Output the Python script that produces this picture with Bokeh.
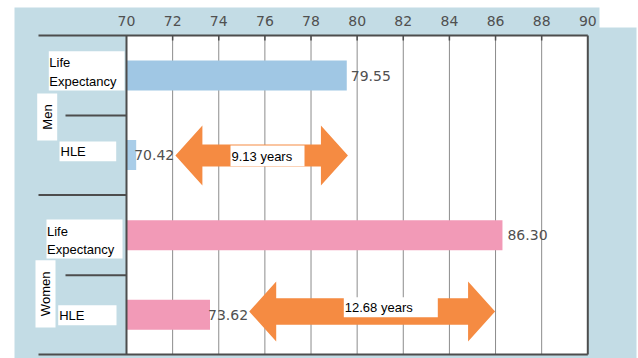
import math
from bokeh.plotting import figure
from bokeh.models import Range1d
from bokeh.core.properties import value
from bokeh.embed import file_html
from bokeh.resources import INLINE

# ---- data -------------------------------------------------------------
groups = ["Men", "Women"]
measures = ["Life Expectancy", "HLE"]
life_expectancy = [79.55, 86.30]
healthy_life_expectancy = [70.42, 73.62]
gap_years = [9.13, 12.68]
ticks = [70, 72, 74, 76, 78, 80, 82, 84, 86, 88, 90]

# ---- layout helpers (pixel layout -> data units on the x scale) -------
PPU = 23.065          # pixels per year
X_ORIGIN_PX = 126     # pixel column of the 70-year axis


def dx(px):
    return 70 + (px - X_ORIGIN_PX) / PPU


W, H = 638, 358
p = figure(width=W, height=H, x_range=Range1d(dx(0), dx(W)), y_range=Range1d(H, 0),
           min_border=0, toolbar_location=None, output_backend="svg",
           x_axis_location=None, y_axis_location=None)
p.grid.visible = False
p.outline_line_color = None
p.background_fill_color = "white"
p.border_fill_color = "white"

PANEL = "#c3dce5"
AXIS = "#4d4d4d"
GRID = "#8c8c8c"
LABEL = "#505050"
TXT_FONT = value("Liberation Sans")
NUM_FONT = value("DejaVu Sans")
TXT_SIZE = "13px"
NUM_SIZE = "14px"

# background panel with a notch at the top right
p.quad(left=[dx(14)], right=[dx(636)], top=[7], bottom=[358], fill_color=PANEL, line_color=None)
p.quad(left=[dx(599)], right=[dx(640)], top=[-2], bottom=[27], fill_color="white", line_color=None)

# plotting area
plot_top, plot_bottom = 35, 354
p.quad(left=[ticks[0]], right=[ticks[-1]], top=[plot_top], bottom=[plot_bottom],
       fill_color="white", line_color=None)

# vertical grid lines and top tick marks
inner = ticks[1:-1]
p.segment(x0=inner, x1=inner, y0=[plot_top] * len(inner), y1=[plot_bottom] * len(inner),
          line_color=GRID, line_width=1)
p.segment(x0=inner, x1=inner, y0=[plot_top] * len(inner), y1=[plot_top + 5] * len(inner),
          line_color=AXIS, line_width=1.5)

# tick labels
p.text(x=ticks, y=[20] * len(ticks), text=[str(t) for t in ticks],
       text_font=NUM_FONT, text_font_size=NUM_SIZE, text_color=LABEL,
       text_align="center", text_baseline="middle")

# row positions (pixel rows) and bar thickness
row_y = {("Men", "Life Expectancy"): 75, ("Men", "HLE"): 154.5,
         ("Women", "Life Expectancy"): 234.7, ("Women", "HLE"): 314.3}
BAR_HALF = 15
colors = {("Men", "Life Expectancy"): "#a0c7e4", ("Men", "HLE"): "#a9cde8",
          ("Women", "Life Expectancy"): "#f29ab7", ("Women", "HLE"): "#f29ab7"}
label_offsets = {("Men", "Life Expectancy"): 4, ("Men", "HLE"): -2,
                 ("Women", "Life Expectancy"): 5, ("Women", "HLE"): -2}

for gi, g in enumerate(groups):
    vals = {"Life Expectancy": life_expectancy[gi], "HLE": healthy_life_expectancy[gi]}
    for m in measures:
        key = (g, m)
        yc = row_y[key]
        v = vals[m]
        p.quad(left=[ticks[0]], right=[v], top=[yc - BAR_HALF], bottom=[yc + BAR_HALF],
               fill_color=colors[key], line_color=None)
        p.text(x=[v], y=[yc], text=[f"{v:.2f}"], x_offset=label_offsets[key],
               text_font=NUM_FONT, text_font_size=NUM_SIZE, text_color=LABEL,
               text_align="left", text_baseline="middle")

# frame lines
p.segment(x0=[ticks[0], ticks[-1]], x1=[ticks[0], ticks[-1]],
          y0=[plot_top, plot_top], y1=[plot_bottom, plot_bottom], line_color=AXIS, line_width=2)
p.segment(x0=[dx(38), dx(38), dx(38)], x1=[ticks[-1], ticks[-1], ticks[0]],
          y0=[plot_top, plot_bottom, 194.5], y1=[plot_top, plot_bottom, 194.5],
          line_color=AXIS, line_width=2)
p.segment(x0=[dx(65), dx(65)], x1=[ticks[0], ticks[0]], y0=[115, 274.7], y1=[115, 274.7],
          line_color=AXIS, line_width=2)

# double-headed gap arrows between HLE and life expectancy
ARROW = "#f58b42"
HEAD_LEN = 27 / PPU
arrow_y = [155, 311]
shaft_half = [11, 13.3]
end_pad = [-0.05, 0.32]
xs, ys = [], []
for i in range(len(groups)):
    x0 = healthy_life_expectancy[i] + 1.7
    x1 = life_expectancy[i] - end_pad[i]
    yc, hh, sh = arrow_y[i], 30, shaft_half[i]
    xs.append([x0, x0 + HEAD_LEN, x0 + HEAD_LEN, x1 - HEAD_LEN, x1 - HEAD_LEN, x1,
               x1 - HEAD_LEN, x1 - HEAD_LEN, x0 + HEAD_LEN, x0 + HEAD_LEN])
    ys.append([yc, yc - hh, yc - sh, yc - sh, yc - hh, yc, yc + hh, yc + sh, yc + sh, yc + hh])
p.patches(xs=xs, ys=ys, fill_color=ARROW, line_color=None)

# gap label boxes
gap_boxes = [(230, 304, 145, 165.7), (343.3, 437.3, 296.7, 316.7)]
for i, (l, r, t, b) in enumerate(gap_boxes):
    p.quad(left=[dx(l)], right=[dx(r)], top=[t], bottom=[b], fill_color="white", line_color=None)
    p.text(x=[dx(l + 1)], y=[(t + b) / 2 + 0.5], text=[f"{gap_years[i]:.2f} years"],
           text_font=TXT_FONT, text_font_size=TXT_SIZE, text_color="black",
           text_align="left", text_baseline="middle")

# category labels on the left
label_boxes = [
    # (left, right, top, bottom)
    (48.3, 124, 50.7, 90), (59, 115.7, 141, 160.7),
    (46, 122, 219, 258), (57.7, 116, 304.7, 324.7),
]
group_boxes = [(36.7, 56.7, 93, 140), (35, 55, 259.7, 327)]
for gi, g in enumerate(groups):
    le_box = label_boxes[2 * gi]
    hle_box = label_boxes[2 * gi + 1]
    for (l, r, t, b) in (le_box, hle_box):
        p.quad(left=[dx(l)], right=[dx(r)], top=[t], bottom=[b], fill_color="white", line_color=None)
    words = measures[0].split(" ")
    l, r, t, b = le_box
    p.text(x=[dx(l + 0.5)] * 2, y=[t + 11.5, t + 30], text=words,
           text_font=TXT_FONT, text_font_size=TXT_SIZE, text_color="black",
           text_align="left", text_baseline="middle")
    l, r, t, b = hle_box
    p.text(x=[dx(l + 1)], y=[(t + b) / 2 + 0.5], text=[measures[1]],
           text_font=TXT_FONT, text_font_size=TXT_SIZE, text_color="black",
           text_align="left", text_baseline="middle")
    l, r, t, b = group_boxes[gi]
    p.quad(left=[dx(l)], right=[dx(r)], top=[t], bottom=[b], fill_color="white", line_color=None)
    p.text(x=[dx((l + r) / 2)], y=[(t + b) / 2], text=[g], angle=math.pi / 2,
           text_font=TXT_FONT, text_font_size=TXT_SIZE, text_color="black",
           text_align="center", text_baseline="middle")

open("out.html", "w").write(file_html(p, INLINE))
